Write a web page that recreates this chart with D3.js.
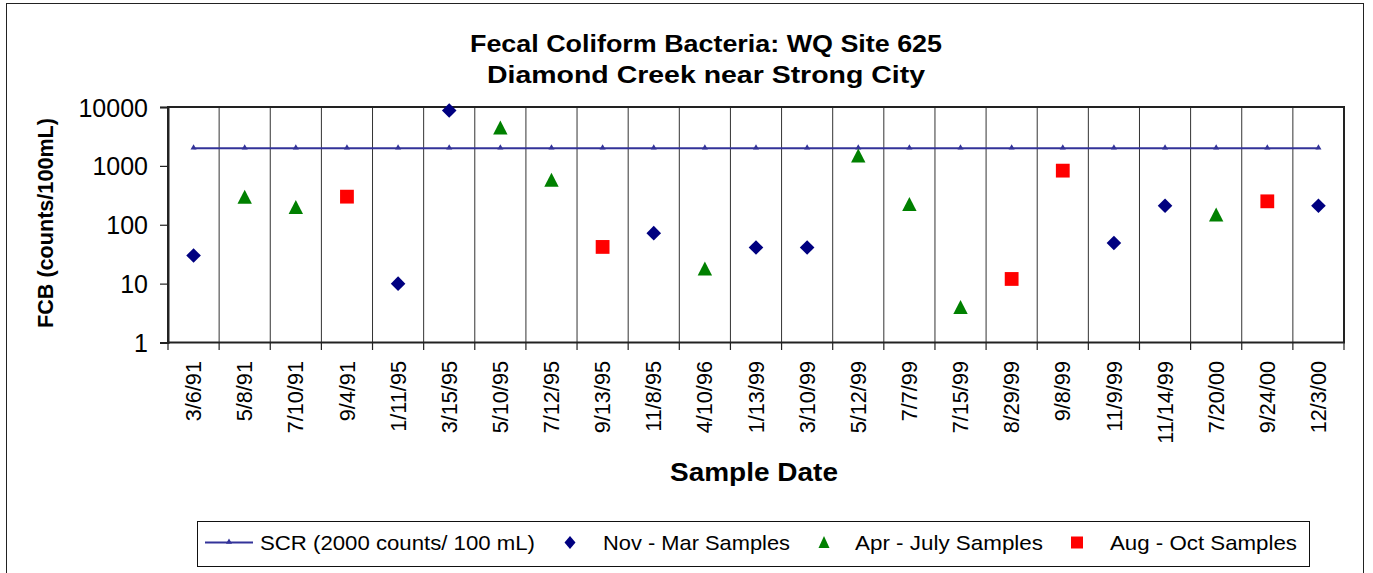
<!DOCTYPE html>
<html><head><meta charset="utf-8">
<script src="https://cdn.jsdelivr.net/npm/d3@7"></script>
<style>body{margin:0;background:#fff}svg{display:block;font-family:"Liberation Sans",Arial,sans-serif}</style>
</head><body><svg id="c" width="1373" height="573"></svg>
<script>
const dates = ["3/6/91","5/8/91","7/10/91","9/4/91","1/11/95","3/15/95","5/10/95","7/12/95","9/13/95","11/8/95","4/10/96","1/13/99","3/10/99","5/12/99","7/7/99","7/15/99","8/29/99","9/8/99","11/9/99","11/14/99","7/20/00","9/24/00","12/3/00"];
const scr = dates.map(() => 2000);
const novMar = [30,null,null,null,10,8700,null,null,null,72,null,41,41,null,null,null,null,null,49,210,null,null,210];
const aprJul = [null,300,200,null,null,null,4500,580,null,null,18,null,null,1500,225,4,null,null,null,null,150,null,null];
const augOct = [null,null,null,300,null,null,null,null,42,null,null,null,null,null,null,null,12,830,null,null,null,250,null];
const yTicks = [1,10,100,1000,10000];
const legendLabels = ["SCR (2000 counts/ 100 mL)","Nov - Mar Samples","Apr - July Samples","Aug - Oct Samples"];

const svg = d3.select("#c");
const L = 168, R = 1344, T = 107, B = 342.5;
const x = d3.scaleBand().domain(dates).range([L, R]).padding(0);
const y = d3.scaleLog().domain([1, 10000]).range([B, T]);

// outer border
svg.append("rect").attr("x",6.5).attr("y",3.5).attr("width",1357).attr("height",600)
  .attr("fill","none").attr("stroke","#222").attr("stroke-width",1);

// titles
const fit = (sel, w) => sel.attr("textLength", w).attr("lengthAdjust","spacingAndGlyphs");
svg.append("text").attr("x",706).attr("y",52).attr("text-anchor","middle")
  .attr("font-size",24).attr("font-weight","bold").text("Fecal Coliform Bacteria: WQ Site 625").call(fit,472);
svg.append("text").attr("x",706).attr("y",83).attr("text-anchor","middle")
  .attr("font-size",24).attr("font-weight","bold").text("Diamond Creek near Strong City").call(fit,438);

// vertical grid lines at category boundaries
const bounds = dates.map(d => x(d)).concat([R]);
svg.append("g").selectAll("line").data(bounds).join("line")
  .attr("x1",d=>d).attr("x2",d=>d).attr("y1",T).attr("y2",B)
  .attr("stroke","#333").attr("stroke-width",1);

// x ticks below axis
svg.append("g").selectAll("line").data(bounds).join("line")
  .attr("x1",d=>d).attr("x2",d=>d).attr("y1",B).attr("y2",350)
  .attr("stroke","#222").attr("stroke-width",1.2);

// plot frame
svg.append("rect").attr("x",L).attr("y",T).attr("width",R-L).attr("height",B-T)
  .attr("fill","none").attr("stroke","#222").attr("stroke-width",2);

// y axis
const yAxis = d3.axisLeft(y).tickValues(yTicks).tickFormat(d3.format("d")).tickSize(8).tickPadding(12);
const ga = svg.append("g").attr("transform",`translate(${L},0)`).call(yAxis);
ga.select(".domain").attr("stroke","#222").attr("stroke-width",2);
ga.selectAll(".tick line").attr("stroke","#222").attr("stroke-width",1.2);
ga.selectAll(".tick text").attr("font-size",25).attr("fill","#000")
  .attr("font-family","Liberation Sans, Arial, sans-serif").attr("dy","0.36em");

// x labels
svg.append("g").selectAll("text").data(dates).join("text")
  .attr("transform", d => `translate(${x(d)+x.bandwidth()/2},361) rotate(-90)`)
  .attr("text-anchor","end").attr("dy","0.35em").attr("font-size",21.7).attr("fill","#000").text(d=>d);

// axis titles
svg.append("text").attr("transform","translate(53,223) rotate(-90)").attr("text-anchor","middle")
  .attr("font-size",21.5).attr("font-weight","bold").text("FCB (counts/100mL)").call(fit,210);
svg.append("text").attr("x",754).attr("y",481).attr("text-anchor","middle")
  .attr("font-size",26).attr("font-weight","bold").text("Sample Date").call(fit,168);

const cx = d => x(d) + x.bandwidth()/2;
const LINEC = "#333399", NAVY = "#000080", GREEN = "#008000", RED = "#ff0000";

// SCR line
const line = d3.line().x((v,i)=>cx(dates[i])).y(v=>y(v));
svg.append("path").datum(scr).attr("d",line).attr("fill","none").attr("stroke",LINEC).attr("stroke-width",2);
const smallTri = d3.symbol().type(d3.symbolTriangle).size(16);
svg.append("g").selectAll("path").data(scr).join("path")
  .attr("d",smallTri).attr("transform",(v,i)=>`translate(${cx(dates[i])},${y(v)-0.5})`).attr("fill",LINEC);

// series markers
const diamond = "M0,-7.3L7.3,0L0,7.3L-7.3,0Z";
const tri = "M0,-7L7.2,7L-7.2,7Z";
const sq = "M-6.9,-6.9H6.9V6.9H-6.9Z";
function markers(vals, path, color){
  svg.append("g").selectAll("path").data(vals.map((v,i)=>({v,d:dates[i]})).filter(o=>o.v!=null)).join("path")
    .attr("d",path).attr("transform",o=>`translate(${cx(o.d)},${y(o.v)})`).attr("fill",color);
}
markers(novMar, diamond, NAVY);
markers(aprJul, tri, GREEN);
markers(augOct, sq, RED);

// legend
const lg = svg.append("g");
lg.append("rect").attr("x",197.5).attr("y",521.5).attr("width",1112).attr("height",45)
  .attr("fill","#fff").attr("stroke","#111").attr("stroke-width",1);
const ly = 542.5;
lg.append("line").attr("x1",205).attr("x2",253).attr("y1",ly).attr("y2",ly).attr("stroke",LINEC).attr("stroke-width",2);
lg.append("path").attr("d",smallTri).attr("transform",`translate(229,${ly-0.5})`).attr("fill",LINEC);
lg.append("path").attr("d","M0,-6.5L5.5,0L0,6.5L-5.5,0Z").attr("transform",`translate(570,${ly})`).attr("fill",NAVY);
lg.append("path").attr("d","M0,-6L5.5,6L-5.5,6Z").attr("transform",`translate(824,${ly-0.5})`).attr("fill",GREEN);
lg.append("path").attr("d","M-6,-6H6V6H-6Z").attr("transform",`translate(1077,${ly})`).attr("fill",RED);
const lx = [260, 603, 855, 1110], lw = [275, 187, 188, 187];
legendLabels.forEach((t,i)=>{
  lg.append("text").attr("x",lx[i]).attr("y",550).attr("font-size",21).attr("fill","#000").text(t).call(fit,lw[i]);
});
</script></body></html>
